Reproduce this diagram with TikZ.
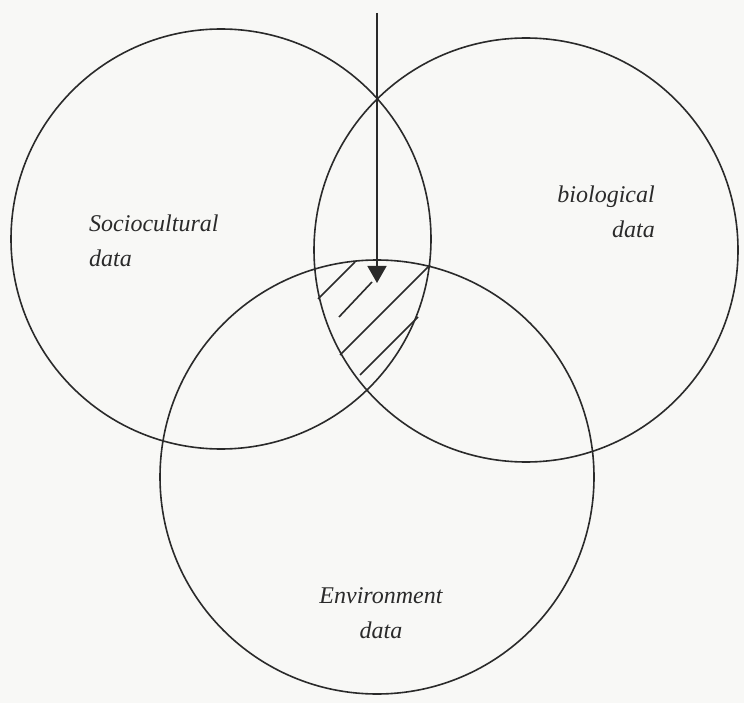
\documentclass[tikz,border=0pt]{standalone}
\usepackage{fontspec}
\setmainfont{Liberation Serif}
\usetikzlibrary{arrows.meta, positioning}

\definecolor{ink}{HTML}{2A2A2A}
\definecolor{paper}{HTML}{F8F8F6}
\tikzset{
  setline/.style={draw=ink, line width=1.6pt},
  dataset/.style={setline, circle, inner sep=0pt, outer sep=0pt},
  setlabel/.style={font=\fontsize{24}{35}\selectfont\itshape, text=ink, inner sep=0pt},
}

\begin{document}
\begin{tikzpicture}[x=1pt, y=-1pt]
  \fill[paper] (0,0) rectangle (744,703);
  \useasboundingbox (0,0) rectangle (744,703);

  % the three data sets
  \node[dataset, minimum size=420pt] (soc) at (221,239) {};
  \node[dataset, minimum size=424pt] (bio) at (526,250) {};
  \node[dataset, minimum size=434pt] (env) at (377,477) {};

  % labels
  \node[setlabel, align=left, anchor=west] (soclabel) at (89,241) {Sociocultural\\data};
  \node[setlabel, align=right, anchor=east] (biolabel) at (655,212) {biological\\data};
  \node[setlabel, align=center] (envlabel) at (381,613) {Environment\\data};

  % hatched common area
  \foreach \xa/\ya/\xb/\yb in {355/262/318/299, 372/282/339/317, 430/265/340/355, 418/317/360/375}
    \draw[setline] (\xa,\ya) -- (\xb,\yb);

  % input arrow
  \coordinate (feed) at (377,13);
  \coordinate (core) at (377,283);
  \draw[setline, -{Triangle[length=17pt, width=19pt]}] (feed) -- (core);
\end{tikzpicture}
\end{document}
